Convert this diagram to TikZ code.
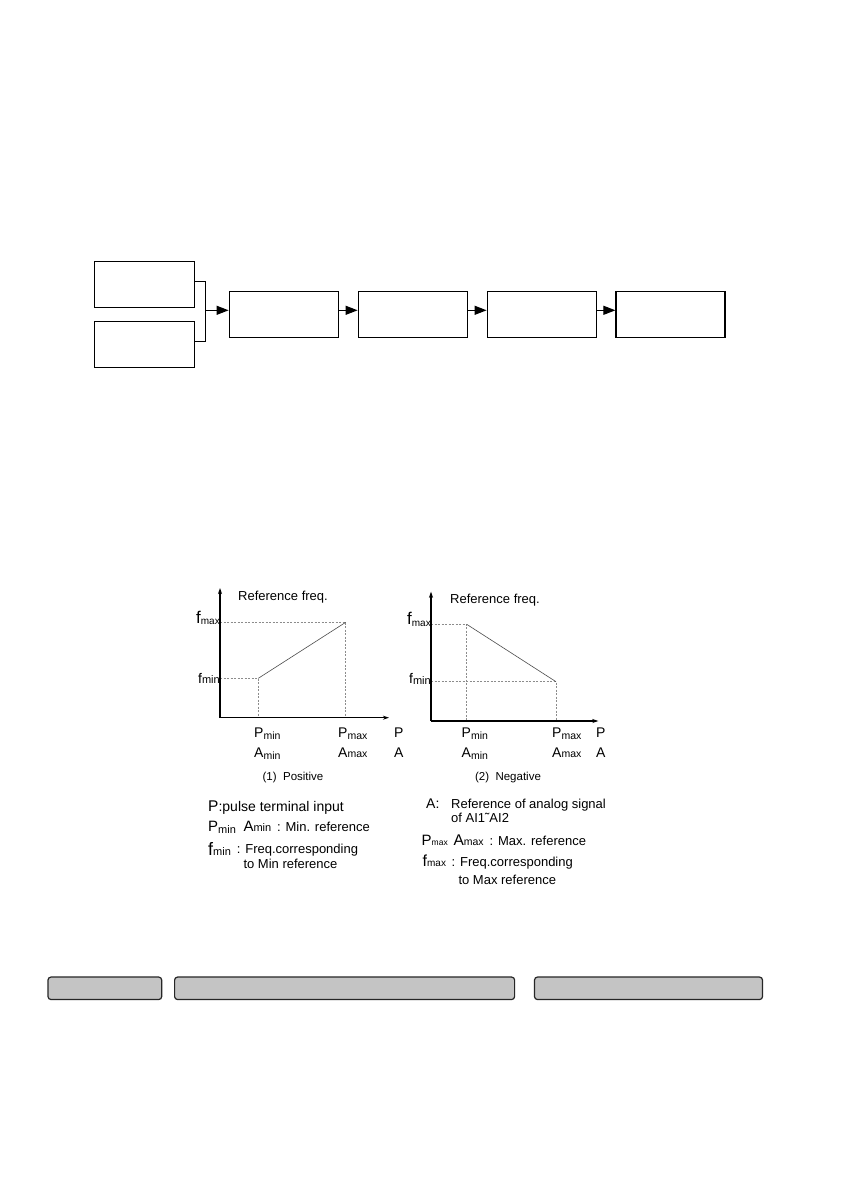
\documentclass[tikz,border=0pt]{standalone}
\usepackage{fontspec}
\setmainfont{Liberation Sans}
\usetikzlibrary{arrows.meta}
\newcommand\myfs[1]{\fontsize{#1}{#1}\selectfont}
\newcommand\lowsub[3]{\raisebox{#1}{\myfs{#2}#3}}
\begin{document}
\begin{tikzpicture}[x=1pt,y=-1pt,
  blk/.style={draw,line width=1.2pt,minimum width=100pt,minimum height=46pt,inner sep=0pt},
  bigblk/.style={blk,minimum width=109pt},
  conn/.style={line width=1.1pt},
  arr/.style={conn,-{Triangle[length=12pt,width=9pt]}},
  axisline/.style={line width=1.3pt,-{Stealth[length=6pt,width=4pt]}},
  guide/.style={draw=black!45,line width=0.6pt,dash pattern=on 2pt off 1.5pt},
  curveline/.style={draw=black!70,line width=0.6pt},
  txt/.style={inner sep=0pt,anchor=base west},
  txte/.style={inner sep=0pt,anchor=base east},
  bar/.style={draw=black!85,fill=black!23,line width=1.2pt,rounded corners=3pt,minimum height=22.5pt,inner sep=0pt}]
\useasboundingbox (0,0) rectangle (840,1190);
\fill[white] (0,0) rectangle (840,1190);

% ---------- block diagram ----------
\node[blk] (ina) at (144.4,284.3) {};
\node[blk] (inb) at (144.4,344.3) {};
\node[bigblk] (b1) at (283.7,314.3) {};
\node[bigblk] (b2) at (412.7,314.3) {};
\node[bigblk] (b3) at (541.7,314.3) {};
\node[bigblk] (b4) at (670.5,314.3) {};
\coordinate (jn) at (205.4,310.3);
\draw[conn] ([yshift=3pt]ina.east) -| (jn) |- ([yshift=3pt]inb.east);
\draw[arr] (jn) -- (b1.west |- jn);
\draw[arr] (b1.east |- jn) -- (b2.west |- jn);
\draw[arr] (b2.east |- jn) -- (b3.west |- jn);
\draw[arr] (b3.east |- jn) -- (b4.west |- jn);

% ---------- graph 1 (positive) ----------
\coordinate (o1) at (220,717.7);
\coordinate (y1) at (220,588);
\coordinate (x1) at (389,717.7);
\coordinate (lo1) at (258.3,678.3);
\coordinate (hi1) at (345.7,622.3);
\draw[guide] (o1 |- hi1) -- (hi1) -- (hi1 |- o1);
\draw[guide] (o1 |- lo1) -- (lo1) -- (lo1 |- o1);
\draw[curveline] (lo1) -- (hi1);
\draw[axisline] (o1) -- (y1);
\draw[axisline] (o1) -- (x1);
\node[txt] (rf1) at (238,600) {\myfs{13}Reference freq.};
\node[txte] (fmax1) at (220,623) {\myfs{17}f\lowsub{-1.5pt}{10}{max}};
\node[txte] (fmin1) at (220,683) {\myfs{14}f\lowsub{-0.5pt}{11}{min}};
\node[txt] (pmin1) at (254,737) {\myfs{14}P\lowsub{-2pt}{10.5}{min}};
\node[txt] (amin1) at (254,757) {\myfs{14}A\lowsub{-2pt}{10.5}{min}};
\node[txt] (pmax1) at (338,737) {\myfs{14}P\lowsub{-2pt}{10.5}{max}};
\node[txt] (amax1) at (338,757) {\myfs{14}A\lowsub{-0.5pt}{10.5}{max}};
\node[txt] (p1) at (394,737) {\myfs{14}P};
\node[txt] (a1) at (394,757) {\myfs{14}A};
\node[inner sep=0pt,anchor=base] (cap1) at (293,780) {\myfs{11.5}(1)\ \ Positive};

% ---------- graph 2 (negative) ----------
\coordinate (o2) at (431,721);
\coordinate (y2) at (431,591.7);
\coordinate (x2) at (598.3,721);
\coordinate (hi2) at (466.7,624.3);
\coordinate (lo2) at (556,681.7);
\draw[guide] (o2 |- hi2) -- (hi2) -- (hi2 |- o2);
\draw[guide] (o2 |- lo2) -- (lo2) -- (lo2 |- o2);
\draw[curveline] (hi2) -- (lo2);
\draw[axisline] (o2) -- (y2);
\draw[axisline] (o2) -- (x2);
\node[txt] (rf2) at (450,603.3) {\myfs{13}Reference freq.};
\node[txte] (fmax2) at (431,624.5) {\myfs{17}f\lowsub{-1.5pt}{10}{max}};
\node[txte] (fmin2) at (431,683.5) {\myfs{14}f\lowsub{-0.5pt}{11}{min}};
\node[txt] (pmin2) at (461.5,737) {\myfs{14}P\lowsub{-2pt}{10.5}{min}};
\node[txt] (amin2) at (461.5,757) {\myfs{14}A\lowsub{-2pt}{10.5}{min}};
\node[txt] (pmax2) at (552,737) {\myfs{14}P\lowsub{-2pt}{10.5}{max}};
\node[txt] (amax2) at (552,757) {\myfs{14}A\lowsub{-0.5pt}{10.5}{max}};
\node[txt] (p2) at (596,737) {\myfs{14}P};
\node[txt] (a2) at (596,757) {\myfs{14}A};
\node[inner sep=0pt,anchor=base] (cap2) at (508,780) {\myfs{11.5}(2)\ \ Negative};

% ---------- legend left ----------
\node[txt] (lg1) at (208,811) {\myfs{15.5}P\myfs{14}:pulse terminal input};
\node[txt] (lg2a) at (208,831.7) {\myfs{15}P\lowsub{-1.5pt}{11}{min}};
\node[txt] (lg2b) at (243.3,831.7) {\myfs{15}A\myfs{11}min};
\node[txt] (lg2c) at (277,831.7) {\myfs{13}: Min. reference};
\node[txt] (lg3a) at (208,855) {\myfs{18}f\myfs{11}min};
\node[txt] (lg3b) at (236.7,853) {\myfs{13}: Freq.corresponding};
\node[txt] (lg3c) at (243.3,868.3) {\myfs{13}to Min reference};

% ---------- legend right ----------
\node[txt] (rg1a) at (426,808.3) {\myfs{14}A:};
\node[txt] (rg1b) at (451,808.3) {\myfs{13}Reference of analog signal};
\node[txt] (rg1c) at (451,822.7) {\myfs{13}of AI1˜AI2};
\node[txt] (rg2a) at (421.5,845.7) {\myfs{15}P\myfs{8.5}max};
\node[txt] (rg2b) at (453.3,845.7) {\myfs{15.5}A\myfs{10.5}max};
\node[txt] (rg2c) at (489.5,845.7) {\myfs{13}: Max. reference};
\node[txt] (rg3a) at (422.5,866) {\myfs{16}f\myfs{10}max};
\node[txt] (rg3b) at (451.5,866) {\myfs{13}: Freq.corresponding};
\node[txt] (rg3c) at (458.3,884.3) {\myfs{13}to Max reference};

% ---------- bottom bars ----------
\node[bar,minimum width=113.7pt] (bar1) at (104.85,988.3) {};
\node[bar,minimum width=340pt] (bar2) at (344.6,988.3) {};
\node[bar,minimum width=228pt] (bar3) at (648.5,988.3) {};
\end{tikzpicture}
\end{document}
